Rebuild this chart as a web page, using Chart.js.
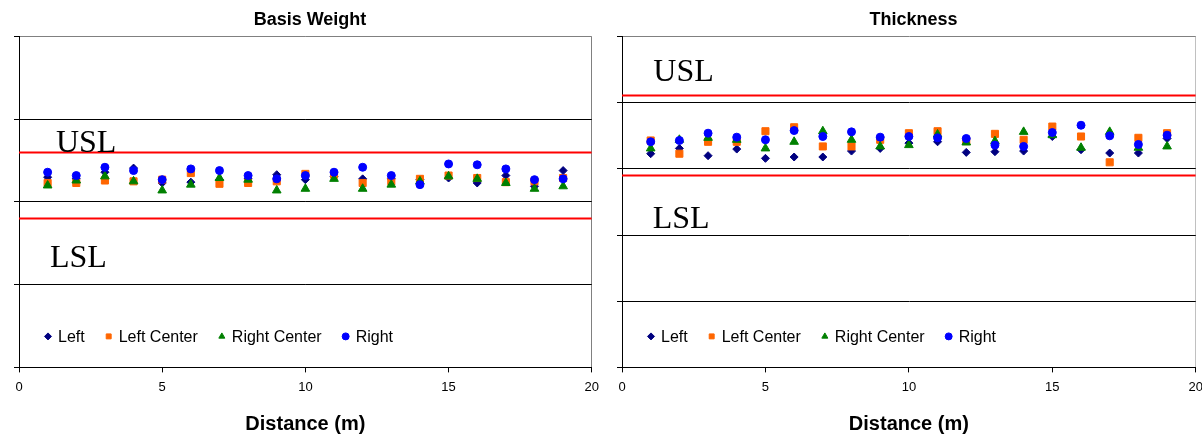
<!DOCTYPE html>
<html>
<head>
<meta charset="utf-8">
<script src="https://cdn.jsdelivr.net/npm/chart.js@4.4.0/dist/chart.umd.min.js"></script>
<style>
  body { margin: 0; background: #fff; overflow: hidden; }
  .caja { position: absolute; top: 0; height: 436px; }
</style>
</head>
<body>
<div class="caja" style="left:0;width:606px"><canvas id="graficaBasis" width="606" height="436"></canvas></div>
<div class="caja" style="left:601px;width:609px"><canvas id="graficaThickness" width="609" height="436"></canvas></div>
<script>
/* datos */
const distance = [1, 2, 3, 4, 5, 6, 7, 8, 9, 10, 11, 12, 13, 14, 15, 16, 17, 18, 19];

const basisLeft        = [2.30, 2.28, 2.36, 2.41, 2.23, 2.24, 2.27, 2.28, 2.33, 2.27, 2.31, 2.28, 2.28, 2.27, 2.29, 2.23, 2.32, 2.19, 2.38];
const basisLeftCenter  = [2.23, 2.23, 2.26, 2.25, 2.27, 2.35, 2.22, 2.23, 2.25, 2.34, 2.33, 2.23, 2.25, 2.28, 2.32, 2.29, 2.24, 2.25, 2.29];
const basisRightCenter = [2.20, 2.26, 2.31, 2.25, 2.14, 2.21, 2.29, 2.27, 2.14, 2.16, 2.28, 2.16, 2.21, 2.25, 2.31, 2.28, 2.23, 2.16, 2.19];
const basisRight       = [2.36, 2.32, 2.42, 2.38, 2.27, 2.40, 2.38, 2.32, 2.28, 2.32, 2.36, 2.42, 2.32, 2.21, 2.46, 2.45, 2.40, 2.27, 2.28];
const basisUSL = 2.6;
const basisLSL = 1.8;

const thickLeft        = [3.23, 3.31, 3.20, 3.30, 3.16, 3.18, 3.18, 3.27, 3.31, 3.39, 3.41, 3.25, 3.26, 3.27, 3.49, 3.29, 3.24, 3.24, 3.46];
const thickLeftCenter  = [3.43, 3.23, 3.41, 3.41, 3.57, 3.63, 3.34, 3.34, 3.44, 3.54, 3.57, 3.42, 3.53, 3.44, 3.64, 3.49, 3.10, 3.47, 3.54];
const thickRightCenter = [3.31, 3.44, 3.47, 3.44, 3.31, 3.41, 3.57, 3.44, 3.34, 3.36, 3.52, 3.40, 3.42, 3.56, 3.51, 3.32, 3.56, 3.32, 3.34];
const thickRight       = [3.41, 3.43, 3.54, 3.48, 3.44, 3.58, 3.49, 3.56, 3.48, 3.49, 3.47, 3.46, 3.36, 3.34, 3.55, 3.66, 3.50, 3.37, 3.51];
const thickUSL = 4.11;
const thickLSL = 2.9;

const seriesNames = ['Left', 'Left Center', 'Right Center', 'Right'];

const sans = '"Liberation Sans", Arial, sans-serif';

/* leyenda dentro del area de la grafica */
const legendInside = {
  id: 'legendInside',
  afterDatasetsDraw(chart) {
    const ctx = chart.ctx;
    const area = chart.chartArea;
    let x = area.left + 29;
    const y = area.bottom - 31;
    ctx.save();
    ctx.font = '16px ' + sans;
    ctx.textBaseline = 'middle';
    chart.data.datasets.forEach(ds => {
      if (!ds.inLegend) return;
      ctx.fillStyle = ds.backgroundColor;
      ctx.strokeStyle = ds.borderColor;
      ctx.lineWidth = 1;
      Chart.helpers.drawPoint(ctx, { pointStyle: ds.pointStyle, radius: 3.5, rotation: 0, borderWidth: 1 }, x, y);
      ctx.fillStyle = '#000';
      ctx.fillText(ds.label, x + 10, y + 1);
      x += 10 + ctx.measureText(ds.label).width + 24;
    });
    ctx.restore();
  }
};

/* textos USL / LSL */
const specLabels = {
  id: 'specLabels',
  afterDatasetsDraw(chart, args, opts) {
    const ctx = chart.ctx;
    const sx = chart.scales.x, sy = chart.scales.y;
    ctx.save();
    ctx.font = '32px "Liberation Serif", "Times New Roman", serif';
    ctx.fillStyle = '#000';
    ctx.textBaseline = 'alphabetic';
    (opts.items || []).forEach(it => {
      ctx.fillText(it.text, sx.getPixelForValue(it.x), sy.getPixelForValue(it.y));
    });
    ctx.restore();
  }
};

function puntos(label, values, color, style, radius, order) {
  return {
    type: 'scatter',
    label: label,
    data: values.map((v, i) => ({ x: distance[i], y: v })),
    backgroundColor: color,
    borderColor: color,
    pointStyle: style,
    pointRadius: radius,
    pointBorderWidth: 1,
    order: order,
    inLegend: true
  };
}

function limite(label, value) {
  return {
    type: 'line',
    label: label,
    data: [{ x: 0, y: value }, { x: 20, y: value }],
    borderColor: '#FF0000',
    borderWidth: 2,
    pointRadius: 0,
    showLine: true,
    fill: false,
    order: 6
  };
}

function grafica(id, titulo, valores, usl, lsl, yMax, notas, bordeDerecho, padLeft) {
  const ctx = document.getElementById(id).getContext('2d');
  new Chart(ctx, {
    type: 'scatter',
    data: {
      datasets: [
        puntos(seriesNames[0], valores[0], '#000080', 'rectRot', 4, 4),
        puntos(seriesNames[1], valores[1], '#FF6600', 'rect', 5, 3),
        puntos(seriesNames[2], valores[2], '#008000', 'triangle', 5, 2),
        puntos(seriesNames[3], valores[3], '#0000FF', 'circle', 4, 1),
        limite('USL', usl),
        limite('LSL', lsl)
      ]
    },
    options: {
      responsive: false,
      animation: false,
      layout: { padding: { left: padLeft, right: 0, top: 0, bottom: 0 } },
      plugins: {
        legend: { display: false },
        tooltip: { enabled: false },
        title: {
          display: true,
          text: titulo,
          color: '#000',
          font: { size: 18, weight: 'bold', family: sans },
          padding: { top: 9, bottom: 6 }
        },
        specLabels: { items: notas }
      },
      scales: {
        x: {
          type: 'linear',
          min: 0,
          max: 20,
          ticks: { stepSize: 5, color: '#000', font: { size: 13, family: sans }, padding: 7, maxRotation: 0 },
          grid: {
            color: c => (c.tick && c.tick.value === 20) ? bordeDerecho : 'rgba(0,0,0,0)',
            tickColor: '#000',
            tickLength: 5
          },
          border: { color: '#000', width: 1 },
          title: {
            display: true,
            text: 'Distance (m)',
            color: '#000',
            font: { size: 20, weight: 'bold', family: sans },
            padding: { top: 10, bottom: 0 }
          }
        },
        y: {
          min: 0,
          max: yMax,
          ticks: { stepSize: 1, display: false },
          grid: {
            color: c => (c.tick && c.tick.value === yMax) ? '#808080' : '#000',
            tickColor: '#000',
            tickLength: 5
          },
          border: { color: '#000', width: 1 }
        }
      }
    },
    plugins: [specLabels, legendInside]
  });
}

document.addEventListener("DOMContentLoaded", () => {
  grafica('graficaBasis', 'Basis Weight',
    [basisLeft, basisLeftCenter, basisRightCenter, basisRight],
    basisUSL, basisLSL, 4,
    [{ text: 'USL', x: 1.29, y: 2.61 }, { text: 'LSL', x: 1.08, y: 1.22 }],
    '#808080', 14);

  grafica('graficaThickness', 'Thickness',
    [thickLeft, thickLeftCenter, thickRightCenter, thickRight],
    thickUSL, thickLSL, 5,
    [{ text: 'USL', x: 1.09, y: 4.33 }, { text: 'LSL', x: 1.07, y: 2.11 }],
    '#C0C0C0', 16);
});
</script>
</body>
</html>
